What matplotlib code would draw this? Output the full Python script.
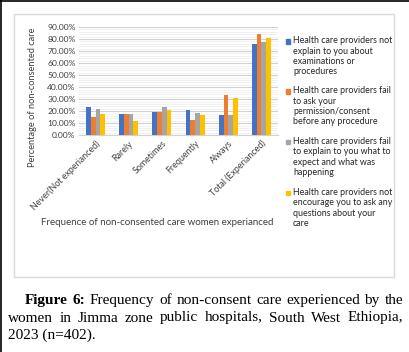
import matplotlib
matplotlib.use("Agg")
import matplotlib.pyplot as plt
import numpy as np
from matplotlib.patches import Rectangle
from matplotlib.lines import Line2D

categories = ["Never(Not experianced)", "Rarely", "Sometimes", "Frequently", "Always", "Total (Experianced)"]
not_explain = [23.5, 17.5, 19.5, 20.8, 16.8, 75.5]
no_permission = [15.3, 17.5, 19.5, 12.8, 33.6, 84.0]
no_expect = [21.8, 17.5, 23.2, 18.5, 16.8, 77.8]
no_questions = [17.5, 11.8, 20.8, 16.8, 31.0, 81.2]
series_labels = [
    "Health care providers not\nexplain to you about\nexaminations or\nprocedures",
    "Health care providers fail\nto ask your\npermission/consent\nbefore any procedure",
    "Health care providers fail\nto explain to you what to\nexpect and what was\nhappening",
    "Health care providers not\nencourage you to ask any\nquestions about your\ncare",
]
colors = ["#4472C4", "#ED7D31", "#A5A5A5", "#FFC000"]
y_ticks = np.arange(0, 91, 10)

W, H = 409, 352
fig = plt.figure(figsize=(W / 100, H / 100), dpi=100)
fig.patch.set_facecolor("white")

def fx(px):
    return px / W

def fy(py):
    return 1 - py / H

# plot area in pixels: x 79..278, y 27..135
ax = fig.add_axes([fx(79), fy(135.3), fx(278) - fx(79), fy(27) - fy(135.3)])

all_series = [not_explain, no_permission, no_expect, no_questions]
x = np.arange(len(categories))
bw = 0.143
for i, (vals, c, lab) in enumerate(zip(all_series, colors, series_labels)):
    ax.bar(x + (i - 1.5) * bw, vals, width=bw, color=c, label=lab, zorder=3)

ax.set_xlim(-0.5, len(categories) - 0.5)
ax.set_ylim(0, 90)
ax.set_yticks(y_ticks)
ax.set_yticklabels([f"{v:.2f}%" for v in y_ticks], fontsize=6.1, family="Lato", color="#404040")
ax.set_yticks(np.arange(0, 91, 2), minor=True)
ax.grid(axis="y", which="major", color="#d0d0d0", linewidth=0.8, zorder=0)
ax.grid(axis="y", which="minor", color="#efefef", linewidth=0.6, zorder=0)
ax.set_xticks(x)
ax.set_xticklabels(categories, rotation=45, ha="right", rotation_mode="anchor",
                   fontsize=6.4, family="Lato", color="#404040")
ax.tick_params(axis="both", which="both", length=0, pad=2.5)
for s in ["top", "right", "left"]:
    ax.spines[s].set_visible(False)
ax.spines["bottom"].set_color("#d0d0d0")

fig.text(fx(33), fy(97), "Percentage of non-consented care", rotation=90,
         ha="center", va="center", fontsize=6.7, family="Lato", color="#404040")
fig.text(fx(157), fy(222), "Frequence of non-consented care women experianced",
         ha="center", va="center", fontsize=7.0, family="Lato", color="#404040")

# legend, marker next to the first line of each entry
leg_centers = [41.3, 91.5, 142, 193]
for c, lab, yc in zip(colors, series_labels, leg_centers):
    fig.patches.append(Rectangle((fx(286), fy(yc + 2.2)), fx(4.4), fy(0) - fy(4.4),
                                 transform=fig.transFigure, color=c))
    fig.text(fx(293), fy(yc - 5.2), lab, ha="left", va="top", fontsize=6.4,
             family="Lato", color="#262626", linespacing=1.2)

# chart border and page edges
fig.patches.append(Rectangle((fx(13.5), fy(277)), fx(394) - fx(13.5), fy(13.5) - fy(277),
                             transform=fig.transFigure, fill=False, edgecolor="#d9d9d9", linewidth=1))
fig.lines.append(Line2D([0, 1], [fy(0.7), fy(0.7)], transform=fig.transFigure, color="black", linewidth=1.2))
fig.lines.append(Line2D([fx(0.7), fx(0.7)], [0, 1], transform=fig.transFigure, color="black", linewidth=1.2))

# caption, justified
cap_font = {"family": "Liberation Serif", "size": 11, "color": "black"}
lines = [
    (25, 403, 304, [("Figure", True), ("6:", True), ("Frequency", False), ("of", False), ("non-consent", False),
                    ("care", False), ("experienced", False), ("by", False), ("the", False)]),
    (8, 403, 321.5, [(w, False) for w in "women in Jimma zone public hospitals, South West Ethiopia,".split()]),
]
renderer = fig.canvas.get_renderer()
for x0, x1, base, words in lines:
    objs = []
    for w, bold in words:
        t = fig.text(0, fy(base), w, ha="left", va="baseline",
                     fontweight="bold" if bold else "normal", **cap_font)
        objs.append(t)
    widths = [o.get_window_extent(renderer).width for o in objs]
    gap = (x1 - x0 - sum(widths)) / (len(objs) - 1)
    pos = x0
    for o, wd in zip(objs, widths):
        o.set_x(fx(pos))
        pos += wd + gap
fig.text(fx(8), fy(339), "2023 (n=402).", ha="left", va="baseline", **cap_font)

fig.savefig("out.png", dpi=100, facecolor="white")
